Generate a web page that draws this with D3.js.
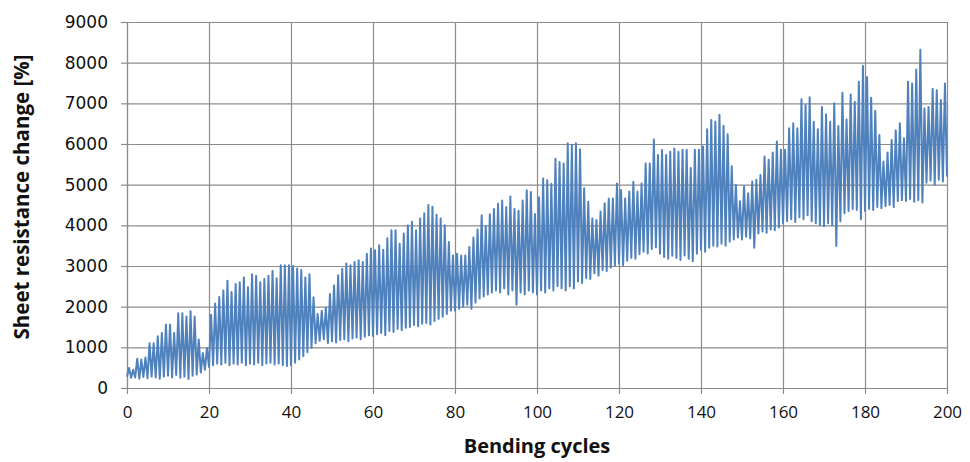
<!DOCTYPE html>
<html>
<head>
<meta charset="utf-8">
<script src="https://cdn.jsdelivr.net/npm/d3@7"></script>
<style>
  body { margin: 0; background: #fff; }
  .grid line { stroke: #8c8c8c; stroke-width: 1.2; }
  .grid path { display: none; }
  .axis path, .axis line { stroke: #8c8c8c; stroke-width: 1.2; }
  .yaxis text { font-family: "DejaVu Sans", sans-serif; font-size: 17px; fill: #111; }
  .xaxis text { font-family: "Open Sans", sans-serif; font-size: 17px; fill: #111; }
  .aText { font-family: "Open Sans", sans-serif; font-weight: bold; fill: #111; }
</style>
</head>
<body>
<div id="chart"></div>
<script>
var xTicks = [0, 20, 40, 60, 80, 100, 120, 140, 160, 180, 200];
var yTicks = [0, 1000, 2000, 3000, 4000, 5000, 6000, 7000, 8000, 9000];

// maximum of each bending cycle (cycle 0..199)
var peaks = [
  490, 450, 720, 700, 750, 1100, 1100, 1270, 1350, 1560,
  1560, 1350, 1840, 1840, 1760, 1890, 1760, 1190, 860, 980,
  1800, 2080, 2240, 2400, 2640, 2360, 2560, 2600, 2720, 2480,
  2800, 2760, 2600, 2680, 2760, 2880, 2700, 3020, 3020, 3020,
  3000, 2940, 2900, 2720, 2800, 2230, 1820, 1900, 1980, 2310,
  2520, 2770, 2930, 3060, 3020, 3100, 3140, 3100, 3300, 3430,
  3390, 3510, 3400, 3680, 3880, 3880, 3550, 3800, 4000, 4090,
  3880, 4170, 4300, 4500, 4460, 4260, 4170, 4000, 3590, 3260,
  3300, 3260, 3260, 3470, 3700, 3900, 4250, 3980, 4270, 4400,
  4530, 4610, 4450, 4710, 4400, 4360, 4610, 4860, 4820, 4280,
  4690, 5150, 5110, 5020, 5640, 5560, 5520, 6020, 5980, 6020,
  5870, 4910, 4580, 4170, 4130, 4340, 4540, 4660, 4660, 5030,
  4870, 4660, 4830, 5070, 4830, 5030, 5520, 5520, 6110, 5730,
  5850, 5730, 5810, 5890, 5810, 5860, 5860, 5410, 5860, 5860,
  5940, 6360, 6590, 6550, 6720, 6450, 6240, 5450, 5000, 4590,
  4960, 4790, 5080, 5120, 5240, 5690, 5610, 5790, 6060, 5860,
  5860, 6390, 6510, 6390, 7100, 6960, 7150, 6550, 6360, 6910,
  6730, 6550, 7000, 6440, 7260, 6600, 7220, 7040, 7530, 7920,
  7650, 7140, 6820, 6220, 5570, 5790, 6100, 6340, 6510, 6140,
  7530, 7490, 7830, 8320, 6870, 6910, 7360, 7320, 7080, 7490
];

// flat (unbent) value at the start of each cycle (cycle 0..200)
var troughs = [
  280, 250, 260, 230, 270, 240, 280, 260, 230, 280,
  300, 260, 320, 250, 280, 220, 300, 330, 380, 450,
  520, 560, 600, 580, 620, 560, 600, 580, 620, 560,
  600, 580, 620, 560, 600, 620, 580, 600, 560, 540,
  560, 620, 700, 780, 880, 990, 1100, 1160, 1200, 1100,
  1150, 1120, 1180, 1200, 1150, 1220, 1240, 1200, 1260, 1300,
  1280, 1320, 1350, 1300, 1400, 1380, 1450, 1420, 1480, 1500,
  1550, 1520, 1580, 1600, 1560, 1650, 1700, 1750, 1820, 1900,
  1900, 1950, 2000, 2050, 1950, 2100, 2200, 2250, 2300, 2350,
  2400, 2350, 2450, 2300, 2400, 2050, 2350, 2300, 2400, 2350,
  2300, 2400, 2350, 2450, 2400, 2500, 2450, 2400, 2500, 2450,
  2620, 2580, 2700, 2680, 2820, 2760, 2900, 2880, 2960, 3010,
  3060, 3020, 3130, 3200, 3180, 3290, 3350, 3310, 3420, 3460,
  3300, 3220, 3180, 3250, 3200, 3150, 3260, 3180, 3120, 3300,
  3400, 3350, 3450, 3500, 3480, 3550, 3500, 3600, 3650, 3700,
  3650, 3720, 3680, 3450, 3800, 3850, 3820, 3900, 3880, 3950,
  4050, 4100, 4150, 4080, 4200, 4150, 4250, 4100, 4050, 4000,
  3980, 4050, 4000, 3490, 4100, 4300, 4350, 4400, 4380, 4150,
  4350, 4400, 4380, 4450, 4420, 4470, 4500, 4450, 4600, 4620,
  4600, 4650, 4580, 4620, 4560, 5050, 5100, 5000, 5120, 5080,
  5200
];

var svgWidth = 970;
var svgHeight = 462;

var margin = { top: 22, right: 23, bottom: 74, left: 127 };
var width = svgWidth - margin.left - margin.right;
var height = svgHeight - margin.top - margin.bottom;

var svg = d3.select("#chart")
  .append("svg")
  .attr("width", svgWidth)
  .attr("height", svgHeight);

var chartGroup = svg.append("g")
  .attr("transform", `translate(${margin.left}, ${margin.top})`);

// trough at the start of each cycle, peak half way through it
var points = [];
peaks.forEach(function(p, i) {
  points.push({ cycle: i, value: troughs[i] });
  points.push({ cycle: i + 0.5, value: p });
});
points.push({ cycle: 200, value: troughs[200] });

var xLinearScale = d3.scaleLinear().domain([0, 200]).range([0, width]);
var yLinearScale = d3.scaleLinear().domain([0, 9000]).range([height, 0]);

// grid
chartGroup.append("g")
  .attr("class", "grid")
  .call(d3.axisLeft(yLinearScale).tickValues(yTicks).tickSize(-width).tickFormat(""));
chartGroup.append("g")
  .attr("class", "grid")
  .attr("transform", `translate(0, ${height})`)
  .call(d3.axisBottom(xLinearScale).tickValues(xTicks).tickSize(-height).tickFormat(""));

// axes
chartGroup.append("g")
  .attr("class", "axis xaxis")
  .attr("transform", `translate(0, ${height})`)
  .call(d3.axisBottom(xLinearScale).tickValues(xTicks).tickFormat(d3.format("d"))
    .tickSizeInner(6).tickSizeOuter(0).tickPadding(12));

chartGroup.append("g")
  .attr("class", "axis yaxis")
  .call(d3.axisLeft(yLinearScale).tickValues(yTicks).tickFormat(d3.format("d"))
    .tickSizeInner(6).tickSizeOuter(0).tickPadding(13));

var line = d3.line()
  .x(d => xLinearScale(d.cycle))
  .y(d => yLinearScale(d.value));

chartGroup.append("path")
  .datum(points)
  .attr("fill", "none")
  .attr("stroke", "#4f81bd")
  .attr("stroke-width", 2)
  .attr("stroke-linejoin", "round")
  .attr("d", line);

chartGroup.append("text")
  .attr("transform", "rotate(-90)")
  .attr("x", 0 - 175)
  .attr("y", 0 - margin.left + 29)
  .attr("text-anchor", "middle")
  .attr("class", "aText")
  .style("font-size", "20.5px")
  .text("Sheet resistance change [%]");

chartGroup.append("text")
  .attr("x", xLinearScale(100))
  .attr("y", height + 65)
  .attr("text-anchor", "middle")
  .attr("class", "aText")
  .style("font-size", "20px")
  .text("Bending cycles");
</script>
</body>
</html>
